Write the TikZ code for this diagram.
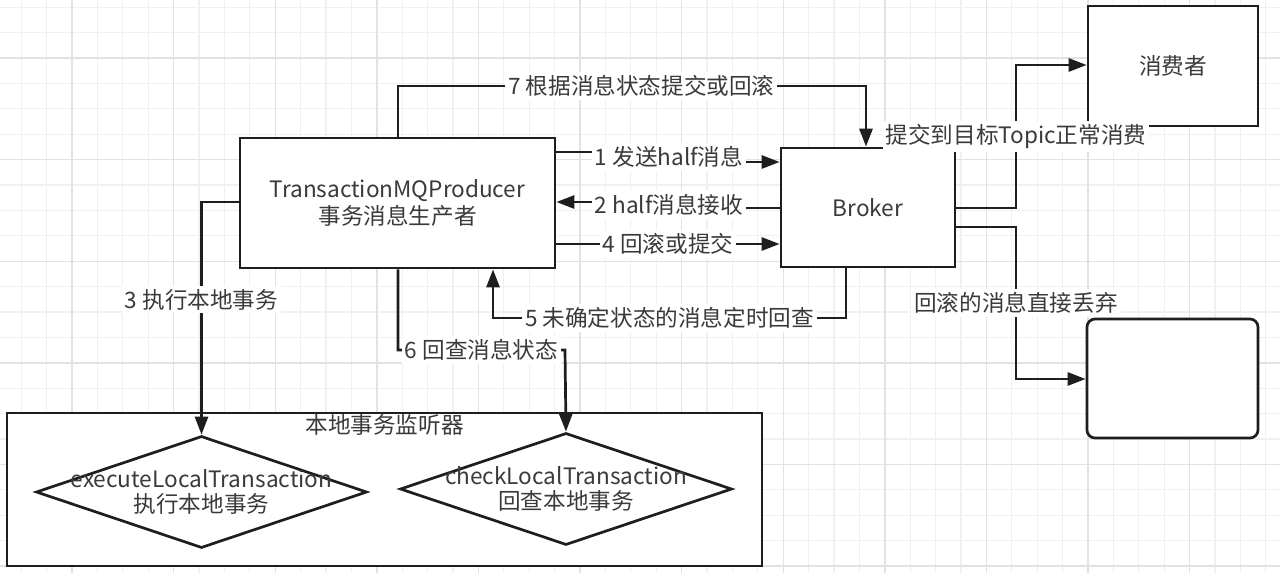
\documentclass[tikz,border=0pt]{standalone}
\usepackage{fontspec}
\setmainfont{Noto Sans CJK SC}
\usetikzlibrary{arrows.meta,shapes.geometric,positioning}
\definecolor{linecol}{HTML}{1E1E1E}
\definecolor{textcol}{HTML}{3A3A3A}
\definecolor{gridminor}{HTML}{F0F0F0}
\definecolor{gridmajor}{HTML}{E2E2E2}

\begin{document}
\begin{tikzpicture}[x=0.5pt, y=-0.5pt,
    every node/.style={text=textcol, font=\fontsize{11.3}{13.5}\selectfont},
    box/.style={draw=linecol, line width=1.35pt, fill=white, inner sep=0pt, align=center},
    choice/.style={diamond, draw=linecol, line width=1.35pt, fill=white, inner sep=0pt},
    lbl/.style={fill=white, inner sep=1.5pt},
    arr/.style={draw=linecol, line width=1.35pt, -{Triangle[length=9pt, width=6.5pt]}},
    link/.style={draw=linecol, line width=1.35pt}]
    \useasboundingbox[fill=white] (0,0) rectangle (1280,573);

    % background grid
    \foreach \k in {-2,...,47} {
        \draw[gridminor, line width=0.6pt] ({72+25.4*\k},0) -- ({72+25.4*\k},573);
    }
    \foreach \k in {-2,...,20} {
        \draw[gridminor, line width=0.6pt] (0,{58+25.4*\k}) -- (1280,{58+25.4*\k});
    }
    \foreach \k in {0,...,11} {
        \draw[gridmajor, line width=0.7pt] ({72+101.6*\k},0) -- ({72+101.6*\k},573);
    }
    \foreach \k in {0,...,5} {
        \draw[gridmajor, line width=0.7pt] (0,{58+101.6*\k}) -- (1280,{58+101.6*\k});
    }

    % boxes
    \node[box, minimum width=157.5pt, minimum height=65pt] (prod) at (397.5,203)
        {TransactionMQProducer\\事务消息生产者};
    \node[box, minimum width=87pt, minimum height=59.5pt] (broker) at (868,207.5) {Broker};
    \node[box, minimum width=85pt, minimum height=60pt] (cons) at (1173,66) {消费者};
    \node[box, rounded corners=4pt, minimum width=85.5pt, minimum height=59.5pt] (drop) at (1172.5,378.5) {};
    \node[box, minimum width=377.5pt, minimum height=76.5pt] (lsn) at (384.5,489.5) {};
    \node[anchor=north, inner sep=1pt] (lsnname) at (lsn.north) {本地事务监听器};

    \node[choice, minimum width=165.5pt, minimum height=56pt] (d1) at (201.5,492) {};
    \node[align=center, font=\fontsize{11.3}{12.5}\selectfont] (d1text) at (d1.center)
        {executeLocalTransaction\\执行本地事务};
    \node[choice, minimum width=166pt, minimum height=56pt] (d2) at (566,489) {};
    \node[align=center, font=\fontsize{11.3}{12.5}\selectfont] (d2text) at (d2.center)
        {checkLocalTransaction\\回查本地事务};

    % connectors
    \draw[arr] (prod.north -| 398,0) -- (398,86) -- node[lbl, pos=0.52] {7 根据消息状态提交或回滚} (866,86)
        -- (broker.north -| 866,0);
    \draw[arr] (prod.east |- 0,152) -- (669,152) |- node[lbl, pos=0.25] {1 发送half消息} (broker.west |- 0,162);
    \draw[arr] (broker.west |- 0,208) -- (669,208) |- node[lbl, pos=0.25] {2 half消息接收} (prod.east |- 0,202);
    \draw[arr] (prod.east |- 0,244) -- node[lbl] {4 回滚或提交} (broker.west |- 0,244);
    \draw[arr] (broker.south -| 846,0) |- node[lbl, pos=0.75] {5 未确定状态的消息定时回查} (493,318)
        -- (prod.south -| 493,0);
    \draw[arr] (prod.south -| 398,0) |- node[lbl, pos=0.75] {6 回查消息状态} (565,350) -- (d2.north);
    \draw[arr] (prod.west |- 0,202) -| node[lbl, pos=0.71] {3 执行本地事务} (d1.north);
    \draw[arr] (broker.east |- 0,208) -- (1016,208) |- node[lbl, pos=0.25] {提交到目标Topic正常消费} (cons.west |- 0,65);
    \draw[arr] (broker.east |- 0,227) -- (1016,227) |- node[lbl, pos=0.25] {回滚的消息直接丢弃} (drop.west |- 0,379);
\end{tikzpicture}
\end{document}
